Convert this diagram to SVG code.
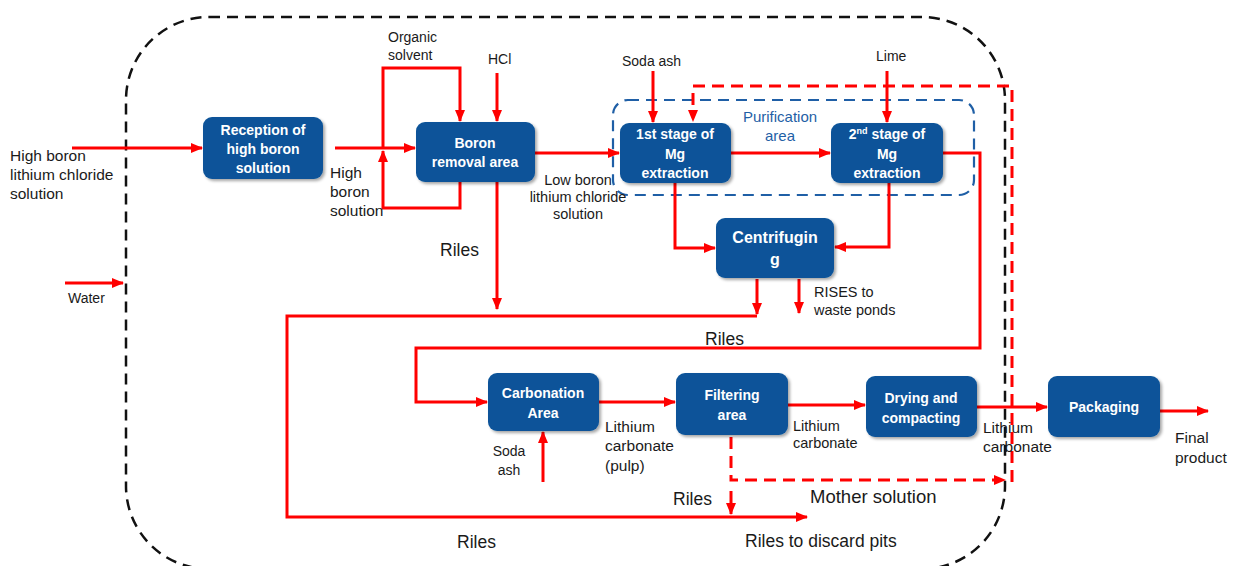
<svg xmlns="http://www.w3.org/2000/svg" width="1234" height="566" viewBox="0 0 1234 566">
<style>
.lb{font-family:"Liberation Sans",Arial,sans-serif;font-size:15.5px;fill:#1a1a1a}
.sm{font-family:"Liberation Sans",Arial,sans-serif;font-size:14.5px;fill:#1a1a1a}
.xs{font-family:"Liberation Sans",Arial,sans-serif;font-size:14px;fill:#1a1a1a}
.bl{font-family:"Liberation Sans",Arial,sans-serif;font-size:17.5px;fill:#1a1a1a}
.bt{font-family:"Liberation Sans",Arial,sans-serif;font-size:14px;font-weight:bold;fill:#ffffff;text-anchor:middle}
.pu{font-family:"Liberation Sans",Arial,sans-serif;font-size:15px;fill:#1f5fa6;text-anchor:middle}
.box{fill:#0a5399;filter:url(#sh)}
.ar{fill:none;stroke:#ff0000;stroke-width:3;marker-end:url(#ah)}
.dr{fill:none;stroke:#ff0000;stroke-width:3;stroke-dasharray:12 7}
</style>
<defs>
<marker id="ah" markerWidth="12" markerHeight="10" refX="11" refY="5" orient="auto" markerUnits="userSpaceOnUse"><path d="M0,0 L12,5 L0,10 z" fill="#ff0000"/></marker>
<filter id="sh" x="-10%" y="-10%" width="125%" height="130%"><feDropShadow dx="2" dy="2" stdDeviation="1.5" flood-color="#000" flood-opacity="0.35"/></filter>
</defs>
<rect width="1234" height="566" fill="#ffffff"/>

<g id="boundaries">
<rect x="126" y="17" width="879" height="552" rx="83" fill="none" stroke="#111" stroke-width="2.5" stroke-dasharray="11 7"/>
<rect x="613" y="100" width="361" height="95" rx="15" fill="none" stroke="#1f5fa6" stroke-width="2.2" stroke-dasharray="11 7"/>
<text class="pu" x="780" y="122">Purification</text>
<text class="pu" x="780" y="141">area</text>
</g>

<g id="connectors">
<path class="ar" d="M72,148 H202"/>
<path class="ar" d="M65,283 H123"/>
<path class="ar" d="M335,148 H415"/>
<path class="ar" d="M383,148 V68 H460 V121"/>
<path class="ar" d="M460,182 V208 H383 V151"/>
<path class="ar" d="M497,73 V121"/>
<path class="ar" d="M535,153 H619"/>
<path class="ar" d="M653,71 V122"/>
<path class="ar" d="M731,153 H830"/>
<path class="ar" d="M887,71 V122"/>
<path class="ar" d="M675,183 V248 H715"/>
<path class="ar" d="M889,183 V247 H835"/>
<path class="ar" d="M943,153 H980 V348 H416 V402 H487"/>
<path class="ar" d="M497,182 V309"/>
<path class="ar" d="M757,279 V314"/>
<path class="ar" d="M799,279 V313"/>
<path class="ar" d="M757,316 H287 V517 H807"/>
<path class="ar" d="M599,402 H675"/>
<path class="ar" d="M543,482 V432"/>
<path class="ar" d="M788,405 H865"/>
<path class="ar" d="M977,407 H1047"/>
<path class="ar" d="M1160,411 H1208"/>
<path class="ar" d="M731,491 V514"/>
<path class="dr" d="M731,437 V480 H996"/>
<path d="M994,475 L1006,480 L994,485 z" fill="#ff0000"/>
<path class="dr" d="M1012,482 V86 H693 V112"/>
<path d="M688,110 L693,122 L698,110 z" fill="#ff0000"/>
</g>

<g id="labels">
<text class="lb" x="10" y="161">High boron</text>
<text class="lb" x="10" y="180">lithium chloride</text>
<text class="lb" x="10" y="199">solution</text>
<text class="xs" x="68" y="303">Water</text>
<text class="lb" x="330" y="178">High</text>
<text class="lb" x="330" y="197">boron</text>
<text class="lb" x="330" y="216">solution</text>
<text class="xs" x="388" y="42">Organic</text>
<text class="xs" x="388" y="60">solvent</text>
<text class="xs" x="488" y="64">HCl</text>
<text class="sm" x="578" y="185" text-anchor="middle">Low boron</text>
<text class="sm" x="578" y="202" text-anchor="middle">lithium chloride</text>
<text class="sm" x="578" y="219" text-anchor="middle">solution</text>
<text class="xs" x="622" y="66">Soda ash</text>
<text class="xs" x="876" y="61">Lime</text>
<text class="bl" x="440" y="256">Riles</text>
<text class="sm" x="814" y="297">RISES to</text>
<text class="sm" x="814" y="315">waste ponds</text>
<text class="bl" x="705" y="345">Riles</text>
<text class="xs" x="509" y="456" text-anchor="middle">Soda</text>
<text class="xs" x="509" y="475" text-anchor="middle">ash</text>
<text class="lb" x="605" y="432">Lithium</text>
<text class="lb" x="605" y="451">carbonate</text>
<text class="lb" x="605" y="471">(pulp)</text>
<text class="sm" x="793" y="431">Lithium</text>
<text class="sm" x="793" y="448">carbonate</text>
<text class="lb" x="983" y="433">Lithium</text>
<text class="lb" x="983" y="452">carbonate</text>
<text class="lb" x="1175" y="443">Final</text>
<text class="lb" x="1175" y="463">product</text>
<text class="bl" x="673" y="505">Riles</text>
<text class="bl" x="810" y="503" style="font-size:18.5px">Mother solution</text>
<text class="bl" x="457" y="548">Riles</text>
<text class="bl" x="745" y="547">Riles to discard pits</text>
</g>

<g id="reception">
<rect class="box" x="203" y="117" width="120" height="62" rx="9"/>
<text class="bt" x="263" y="135">Reception of</text>
<text class="bt" x="263" y="154">high boron</text>
<text class="bt" x="263" y="173">solution</text>
</g>
<g id="boron">
<rect class="box" x="416" y="122" width="119" height="60" rx="9"/>
<text class="bt" x="475" y="148">Boron</text>
<text class="bt" x="475" y="167">removal area</text>
</g>
<g id="stage1">
<rect class="box" x="620" y="123" width="111" height="60" rx="9"/>
<text class="bt" x="675" y="139">1st stage of</text>
<text class="bt" x="675" y="159">Mg</text>
<text class="bt" x="675" y="178">extraction</text>
</g>
<g id="stage2">
<rect class="box" x="831" y="123" width="112" height="60" rx="9"/>
<text class="bt" x="887" y="139">2<tspan font-size="9" dy="-5">nd</tspan><tspan dy="5"> stage of</tspan></text>
<text class="bt" x="887" y="159">Mg</text>
<text class="bt" x="887" y="178">extraction</text>
</g>
<g id="centrifuging">
<rect class="box" x="716" y="218" width="118" height="60" rx="9"/>
<text class="bt" x="775" y="243" style="font-size:16px">Centrifugin</text>
<text class="bt" x="775" y="265" style="font-size:16px">g</text>
</g>
<g id="carbonation">
<rect class="box" x="488" y="373" width="111" height="58" rx="9"/>
<text class="bt" x="543" y="398">Carbonation</text>
<text class="bt" x="543" y="418">Area</text>
</g>
<g id="filtering">
<rect class="box" x="676" y="373" width="112" height="62" rx="9"/>
<text class="bt" x="732" y="400">Filtering</text>
<text class="bt" x="732" y="420">area</text>
</g>
<g id="drying">
<rect class="box" x="866" y="376" width="111" height="61" rx="9"/>
<text class="bt" x="921" y="403">Drying and</text>
<text class="bt" x="921" y="423">compacting</text>
</g>
<g id="packaging">
<rect class="box" x="1048" y="376" width="112" height="61" rx="9"/>
<text class="bt" x="1104" y="412">Packaging</text>
</g>
</svg>
